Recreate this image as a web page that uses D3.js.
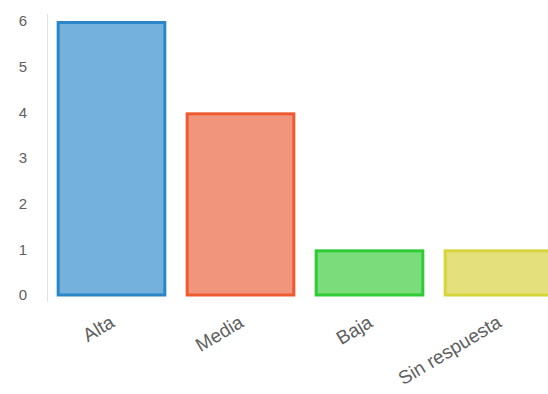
<!DOCTYPE html>
<html>
<head>
<meta charset="utf-8">
<script src="https://cdn.jsdelivr.net/npm/d3@7"></script>
<style>
  html, body { margin: 0; padding: 0; background: #fff; overflow: hidden; }
  svg { display: block; }
  text { font-family: "Liberation Sans", Arial, Helvetica, sans-serif; }
</style>
</head>
<body>
<svg id="chart" width="548" height="394"></svg>
<script>
// Priority counts
const categories = ["Alta", "Media", "Baja", "Sin respuesta"];
const values = [6, 4, 1, 1];
const yTicks = [0, 1, 2, 3, 4, 5, 6];
const fills = ["#74b1dd", "#f1967c", "#7bdc7b", "#e4e17c"];
const strokes = ["#2a86c8", "#f05a30", "#2ecb35", "#d8d43c"];

const svg = d3.select("#chart");

const x = d3.scaleBand()
  .domain(categories)
  .range([47, 563])
  .paddingInner(0.15)
  .paddingOuter(0.075);

const y = d3.scaleLinear()
  .domain([0, 6])
  .range([295, 21]);

// Vertical axis line
svg.append("line")
  .attr("x1", 47.5).attr("x2", 47.5)
  .attr("y1", 14).attr("y2", 302)
  .attr("stroke", "#e2e2e2")
  .attr("stroke-width", 1);

// Y tick labels
svg.append("g")
  .selectAll("text")
  .data(yTicks)
  .join("text")
  .attr("x", 27)
  .attr("y", d => y(d))
  .attr("dy", "0.36em")
  .attr("text-anchor", "end")
  .attr("font-size", 15)
  .attr("fill", "#606060")
  .text(d => d);

// Bars
const sw = 3;
svg.append("g")
  .selectAll("rect")
  .data(categories)
  .join("rect")
  .attr("x", d => x(d) + sw / 2)
  .attr("y", (d, i) => y(values[i]) + sw / 2)
  .attr("width", x.bandwidth() - sw)
  .attr("height", (d, i) => y(0) - y(values[i]) - sw / 2)
  .attr("fill", (d, i) => fills[i])
  .attr("stroke", (d, i) => strokes[i])
  .attr("stroke-width", sw);

// Rotated category labels
svg.append("g")
  .selectAll("text")
  .data(categories)
  .join("text")
  .attr("transform", d => `translate(${x(d) + x.bandwidth() / 2 + 1},320) rotate(-31)`)
  .attr("text-anchor", "end")
  .attr("dy", "0.35em")
  .attr("font-size", 19)
  .attr("fill", "#606060")
  .text(d => d);
</script>
</body>
</html>
